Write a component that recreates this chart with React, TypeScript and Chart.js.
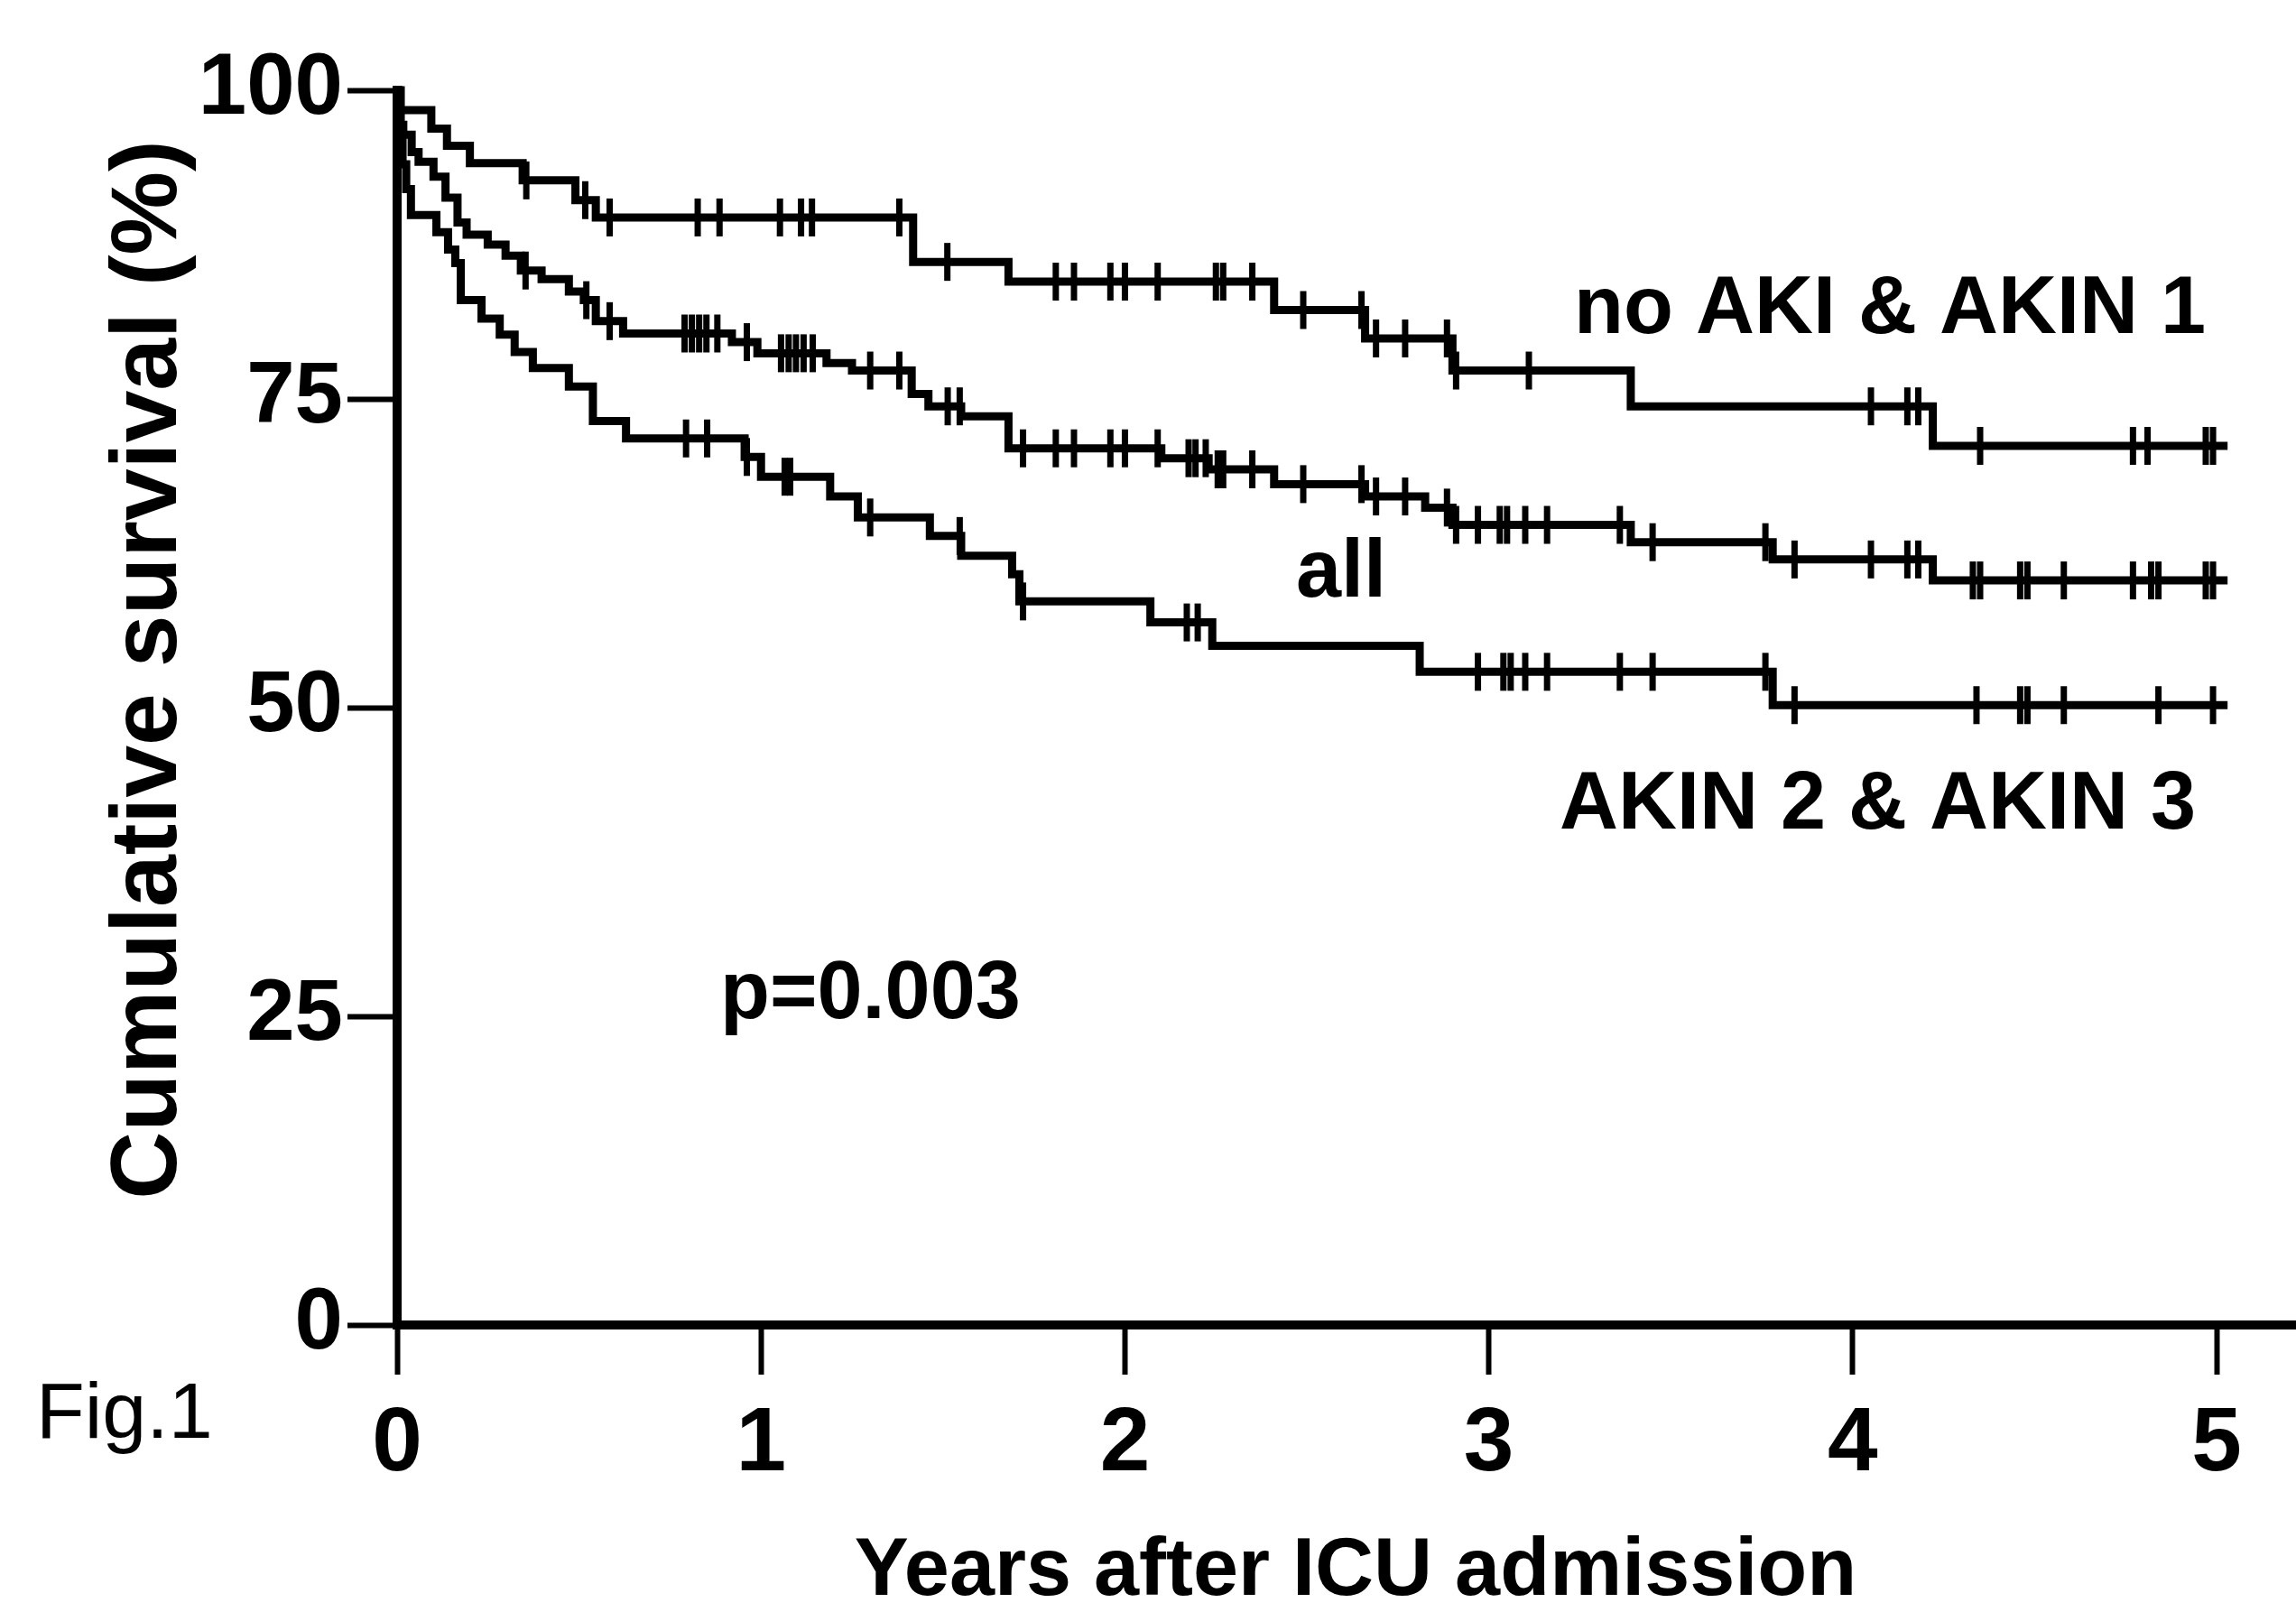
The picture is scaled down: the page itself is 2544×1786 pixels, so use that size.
import React, { useEffect, useRef } from "react";
import { Chart, registerables } from "chart.js";

Chart.register(...registerables);

// ---- axis data ----
const xTickValues = [0, 1, 2, 3, 4, 5];
const yTickValues = [0, 25, 50, 75, 100];
const xAxisMax = 5.218;

// ---- no AKI & AKIN 1 ----
const noAkiTimes = [0, 0.01, 0.094, 0.137, 0.2, 0.345, 0.49, 0.546, 1.418, 1.68, 2.41, 2.66, 2.9, 3.39, 4.22, 5.03];
const noAkiSurvival = [100, 98.4, 96.9, 95.5, 94.1, 92.7, 91.1, 89.7, 86.1, 84.5, 82.2, 79.9, 77.3, 74.4, 71.2, 71.2];
const noAkiCensored = [0.355, 0.517, 0.584, 0.826, 0.886, 1.052, 1.11, 1.14, 1.38, 1.512, 1.81, 1.86, 1.96, 2.0, 2.09, 2.25, 2.27, 2.35, 2.49, 2.65, 2.69, 2.77, 2.885, 2.91, 3.11, 4.05, 4.15, 4.18, 4.35, 4.77, 4.81, 4.97, 4.99];

// ---- all ----
const allTimes = [0, 0.004, 0.01, 0.017, 0.04, 0.059, 0.1, 0.133, 0.166, 0.191, 0.249, 0.298, 0.34, 0.397, 0.472, 0.513, 0.546, 0.621, 0.92, 0.99, 1.18, 1.25, 1.414, 1.46, 1.55, 1.68, 2.1, 2.23, 2.41, 2.66, 2.825, 2.9, 3.39, 3.78, 4.22, 5.03];
const allSurvival = [100, 98, 97.2, 96.4, 95.0, 94.2, 93.0, 91.3, 89.3, 88.3, 87.5, 86.6, 85.4, 84.7, 83.7, 83.0, 81.3, 80.3, 79.6, 78.7, 77.9, 77.3, 75.4, 74.4, 73.6, 71.0, 70.2, 69.3, 68.1, 67.1, 66.2, 64.8, 63.4, 62.0, 60.3, 60.3];
const allCensored = [0.353, 0.52, 0.584, 0.79, 0.81, 0.83, 0.85, 0.88, 0.961, 1.055, 1.076, 1.096, 1.117, 1.142, 1.3, 1.38, 1.513, 1.546, 1.72, 1.81, 1.86, 1.96, 2.0, 2.09, 2.175, 2.194, 2.222, 2.255, 2.27, 2.35, 2.49, 2.65, 2.69, 2.77, 2.885, 2.91, 2.97, 3.03, 3.05, 3.1, 3.16, 3.36, 3.45, 3.76, 3.84, 4.05, 4.15, 4.18, 4.33, 4.35, 4.46, 4.48, 4.58, 4.77, 4.82, 4.84, 4.97, 4.99];

// ---- AKIN 2 & AKIN 3 ----
const akinTimes = [0, 0.003, 0.008, 0.015, 0.025, 0.038, 0.108, 0.14, 0.16, 0.175, 0.232, 0.282, 0.323, 0.373, 0.472, 0.538, 0.629, 0.955, 1.0, 1.19, 1.266, 1.464, 1.55, 1.69, 1.71, 2.07, 2.24, 2.81, 3.78, 5.03];
const akinSurvival = [100, 98, 96, 94, 92, 89.9, 88.5, 87.1, 86.0, 83.0, 81.5, 80.2, 78.8, 77.5, 76.0, 73.2, 71.8, 70.3, 68.7, 67.1, 65.4, 63.9, 62.3, 60.8, 58.6, 56.9, 55.0, 52.9, 50.2, 50.2];
const akinCensored = [0.794, 0.852, 0.961, 1.065, 1.08, 1.3, 1.546, 1.72, 2.17, 2.2, 2.97, 3.04, 3.06, 3.1, 3.16, 3.36, 3.45, 3.76, 3.84, 4.34, 4.46, 4.48, 4.58, 4.84, 4.99];

// ---- text ----
const curveLabels = ["no AKI & AKIN 1", "all", "AKIN 2 & AKIN 3"];
const pValueLabel = "p=0.003";
const xAxisTitle = "Years after ICU admission";
const yAxisTitle = "Cumulative survival (%)";
const figureLabel = "Fig.1";

function stepValue(times: number[], surv: number[], t: number): number {
  let v = surv[0];
  for (let i = 0; i < times.length; i++) {
    if (times[i] <= t) v = surv[i];
  }
  return v;
}

function curveDataset(times: number[], surv: number[]) {
  return {
    type: "line" as const,
    data: times.map((t, i) => ({ x: t, y: surv[i] })),
    stepped: "before" as const,
    borderColor: "#000",
    borderWidth: 9,
    borderJoinStyle: "miter" as const,
    borderCapStyle: "butt" as const,
    pointRadius: 0,
    fill: false,
    clip: false as const,
  };
}

function censorDataset(times: number[], surv: number[], cens: number[]) {
  return {
    type: "line" as const,
    data: cens.map((t) => ({ x: t, y: stepValue(times, surv, t) })),
    showLine: false,
    pointStyle: "line" as const,
    pointRotation: 90,
    pointRadius: 21,
    pointBorderWidth: 7,
    pointBorderColor: "#000",
    pointBackgroundColor: "#000",
    clip: false as const,
  };
}

const FONT = "'Liberation Sans', Arial, sans-serif";

const textPlugin = {
  id: "kmText",
  afterDraw(chart: any) {
    const ctx = chart.ctx as CanvasRenderingContext2D;
    ctx.save();
    ctx.fillStyle = "#000";
    ctx.textBaseline = "middle";
    ctx.textAlign = "left";
    ctx.font = `bold 90px ${FONT}`;
    ctx.fillText(curveLabels[0], 1744, 344);
    ctx.fillText(curveLabels[1], 1436, 636);
    ctx.fillText(curveLabels[2], 1728, 893);
    ctx.fillText(pValueLabel, 798, 1103);
    ctx.textAlign = "center";
    ctx.fillText(xAxisTitle, 1502, 1742);
    ctx.save();
    ctx.translate(166, 742);
    ctx.rotate(-Math.PI / 2);
    ctx.font = `bold 104px ${FONT}`;
    ctx.fillText(yAxisTitle, 0, 0);
    ctx.restore();
    ctx.textAlign = "left";
    ctx.font = `88px ${FONT}`;
    ctx.fillText(figureLabel, 40, 1569);
    ctx.restore();
  },
};

export default function App() {
  const canvasRef = useRef<HTMLCanvasElement | null>(null);

  useEffect(() => {
    const canvas = canvasRef.current;
    if (!canvas) return;
    const chart = new Chart(canvas, {
      type: "line",
      data: {
        datasets: [
          curveDataset(noAkiTimes, noAkiSurvival),
          curveDataset(allTimes, allSurvival),
          curveDataset(akinTimes, akinSurvival),
          censorDataset(noAkiTimes, noAkiSurvival, noAkiCensored),
          censorDataset(allTimes, allSurvival, allCensored),
          censorDataset(akinTimes, akinSurvival, akinCensored),
        ] as any,
      },
      options: {
        responsive: false,
        devicePixelRatio: 1,
        animation: false,
        layout: { autoPadding: false, padding: { top: 100, left: 0, right: 0, bottom: 0 } },
        plugins: { legend: { display: false }, tooltip: { enabled: false } },
        scales: {
          x: {
            type: "linear",
            position: "bottom",
            min: 0,
            max: xAxisMax,
            offset: false,
            afterFit: (s: any) => {
              s.height = 318;
              s.paddingLeft = 0;
              s.paddingRight = 0;
            },
            afterBuildTicks: (s: any) => {
              s.ticks = xTickValues.map((v) => ({ value: v }));
            },
            grid: {
              display: true,
              drawOnChartArea: false,
              drawTicks: true,
              tickLength: 55,
              tickWidth: 6,
              tickColor: "#000",
              color: "#000",
            },
            border: { display: true, width: 10, color: "#000" },
            ticks: {
              color: "#000",
              font: { family: FONT, weight: "bold", size: 100, lineHeight: 1 },
              padding: 28,
              maxRotation: 0,
              autoSkip: false,
            },
          },
          y: {
            type: "linear",
            min: 0,
            max: 100,
            afterFit: (s: any) => {
              s.width = 440;
            },
            afterBuildTicks: (s: any) => {
              s.ticks = yTickValues.map((v) => ({ value: v }));
            },
            grid: {
              display: true,
              drawOnChartArea: false,
              drawTicks: true,
              tickLength: 55,
              tickWidth: 6,
              tickColor: "#000",
              color: "#000",
            },
            border: { display: true, width: 10, color: "#000" },
            ticks: {
              color: "#000",
              font: { family: FONT, weight: "bold", size: 96, lineHeight: 1 },
              padding: 5,
              autoSkip: false,
            },
          },
        },
      } as any,
      plugins: [textPlugin],
    });
    return () => chart.destroy();
  }, []);

  return (
    <div style={{ position: "absolute", left: 0, top: 0, width: 2544, height: 1786, background: "#fff" }}>
      <canvas ref={canvasRef} width={2544} height={1786} style={{ width: 2544, height: 1786, display: "block" }} />
    </div>
  );
}
